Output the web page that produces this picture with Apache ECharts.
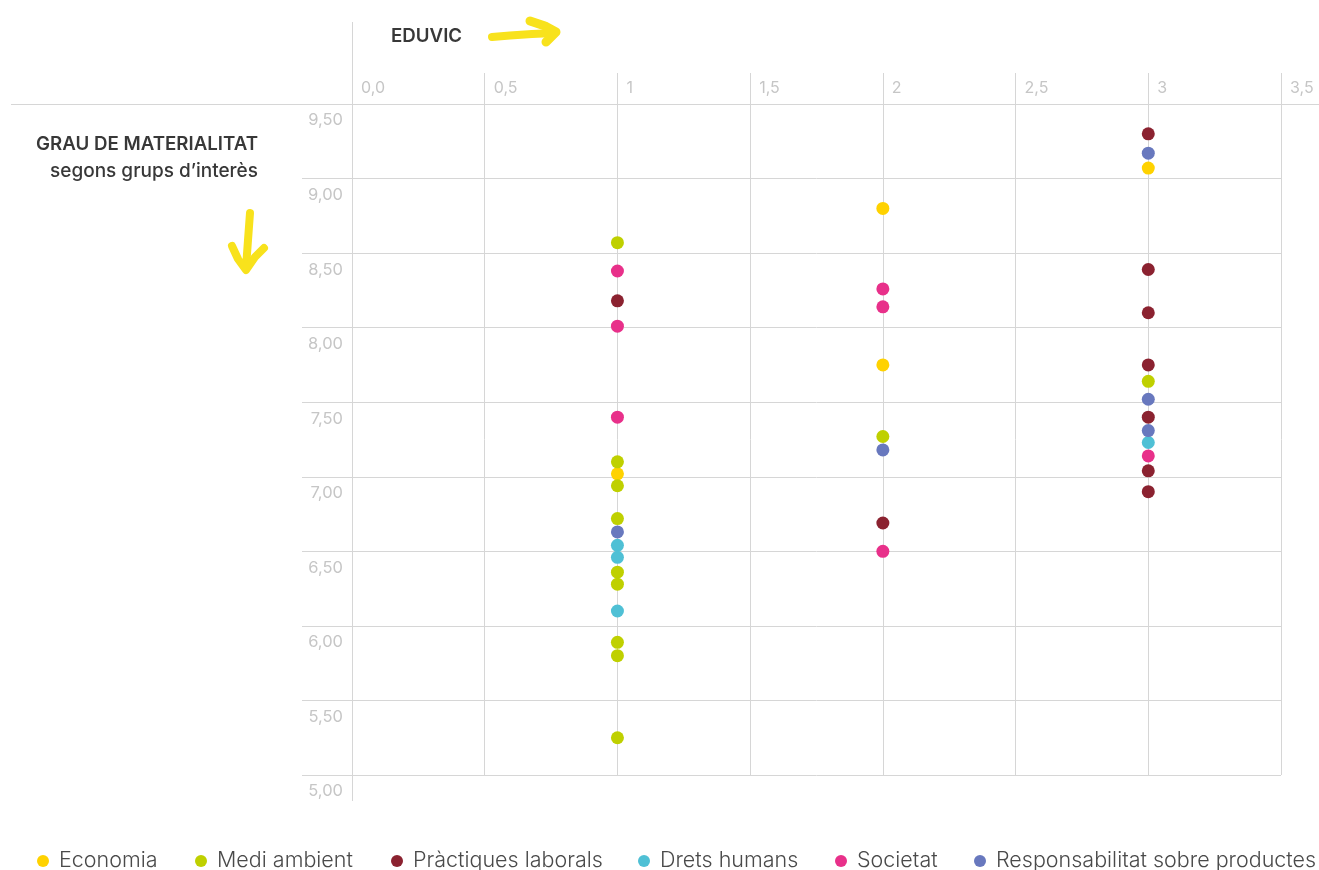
<!DOCTYPE html>
<html>
<head>
<meta charset="utf-8">
<title>EDUVIC – Grau de materialitat</title>
<script src="https://cdn.jsdelivr.net/npm/echarts@6/dist/echarts.min.js"></script>
<style>
  html, body { margin: 0; padding: 0; background: #ffffff; }
  #chart { width: 1319px; height: 870px; }
</style>
</head>
<body>
<div id="chart"></div>
<script>
// Material topics: x = EDUVIC score, y = stakeholder materiality score
const categories = [
  'Economia',
  'Medi ambient',
  'Pràctiques laborals',
  'Drets humans',
  'Societat',
  'Responsabilitat sobre productes'
];
const colors = ['#FFD200', '#BFD000', '#8B2230', '#4FC0D5', '#E8308A', '#6878BE'];

const economia = [[1, 7.02], [2, 8.80], [2, 7.75], [3, 9.07]];
const mediAmbient = [
  [1, 8.57], [1, 7.10], [1, 6.94], [1, 6.72], [1, 6.36], [1, 6.28],
  [1, 5.89], [1, 5.80], [1, 5.25], [2, 7.27], [3, 7.64]
];
const practiquesLaborals = [
  [1, 8.18], [2, 6.69], [3, 9.30], [3, 8.39], [3, 8.10], [3, 7.75],
  [3, 7.40], [3, 7.04], [3, 6.90]
];
const dretsHumans = [[1, 6.54], [1, 6.46], [1, 6.10], [3, 7.23]];
const societat = [[1, 8.38], [1, 8.01], [1, 7.40], [2, 8.26], [2, 8.14], [2, 6.50], [3, 7.14]];
const responsabilitat = [[1, 6.63], [2, 7.18], [3, 9.17], [3, 7.52], [3, 7.31]];

const seriesData = [economia, mediAmbient, practiquesLaborals, dretsHumans, societat, responsabilitat];

// Tick labels
const xTickLabels = ['0,0', '0,5', '1', '1,5', '2', '2,5', '3', '3,5'];
const yTickLabels = ['5,00', '5,50', '6,00', '6,50', '7,00', '7,50', '8,00', '8,50', '9,00', '9,50'];

// Legend item positions (left edge of each marker)
const legendLeft = [37, 195, 391, 638, 835, 974];

const gridColor = '#d6d6d6';
const tickText = '#c6c6c6';
const FONT = 'Inter, "Noto Sans", sans-serif';

const chart = echarts.init(document.getElementById('chart'), null, { renderer: 'canvas' });

const option = {
  backgroundColor: '#ffffff',
  animation: false,
  grid: { left: 352, right: 38, top: 104, bottom: 95 },
  xAxis: {
    type: 'value',
    position: 'top',
    min: 0, max: 3.5, interval: 0.5,
    axisLine: { show: false },
    axisTick: { show: true, length: 31, lineStyle: { color: gridColor, width: 1 } },
    splitLine: { show: true, lineStyle: { color: gridColor, width: 1 } },
    axisLabel: {
      margin: 8,
      align: 'left',
      padding: [0, 0, 0, 9],
      color: tickText,
      fontFamily: FONT,
      fontSize: 16,
      showMinLabel: true,
      showMaxLabel: true,
      formatter: v => xTickLabels[Math.round(v / 0.5)]
    }
  },
  yAxis: {
    type: 'value',
    min: 5, max: 9.5, interval: 0.5,
    axisLine: { show: false },
    axisTick: { show: true, length: 50, lineStyle: { color: gridColor, width: 1 } },
    splitLine: { show: true, lineStyle: { color: gridColor, width: 1 } },
    axisLabel: {
      margin: 9,
      verticalAlign: 'top',
      padding: [8, 0, 0, 0],
      lineHeight: 17,
      color: tickText,
      fontFamily: FONT,
      fontSize: 16.5,
      showMinLabel: true,
      showMaxLabel: true,
      formatter: v => yTickLabels[Math.round((v - 5) / 0.5)]
    }
  },
  legend: categories.map((name, i) => ({
    data: [name],
    left: legendLeft[i],
    top: 848,
    padding: 0,
    icon: 'circle',
    itemWidth: 12,
    itemHeight: 12,
    selectedMode: false,
    textStyle: {
      color: '#4a4a4a',
      fontFamily: FONT,
      fontSize: 21.5,
      fontWeight: 300,
      lineHeight: 26,
      padding: [0, 0, 0, 5]
    }
  })),
  series: categories.map((name, i) => ({
    name,
    type: 'scatter',
    symbol: 'circle',
    symbolSize: 13,
    itemStyle: { color: colors[i], opacity: 1 },
    emphasis: { disabled: true },
    data: seriesData[i]
  })),
  graphic: [
    // long rule under the header and extended vertical axis rule
    { type: 'line', silent: true, z: 10,
      shape: { x1: 11, y1: 104.5, x2: 1319, y2: 104.5 },
      style: { stroke: gridColor, lineWidth: 1 } },
    { type: 'line', silent: true, z: 10,
      shape: { x1: 352.5, y1: 22, x2: 352.5, y2: 801 },
      style: { stroke: gridColor, lineWidth: 1 } },
    // headings
    { type: 'text', silent: true, left: 391, top: 27,
      style: { text: 'EDUVIC', fill: '#383838', font: '600 18.7px ' + FONT } },
    { type: 'text', silent: true, right: 1319 - 258, top: 135,
      style: { text: 'GRAU DE MATERIALITAT', fill: '#383838', font: '600 18.7px ' + FONT, align: 'right' } },
    { type: 'text', silent: true, right: 1319 - 258, top: 162,
      style: { text: 'segons grups d\u2019interès', fill: '#383838', font: '500 19px ' + FONT, align: 'right' } },
    // hand-drawn yellow arrows
    { type: 'polyline', silent: true,
      shape: { points: [[492, 37], [510, 35.5], [532, 34], [554, 33]] },
      style: { stroke: '#F8E21C', lineWidth: 8, lineCap: 'round', lineJoin: 'round', fill: null } },
    { type: 'polyline', silent: true,
      shape: { points: [[530, 21], [545, 26], [556, 32], [546, 42]] },
      style: { stroke: '#F8E21C', lineWidth: 9, lineCap: 'round', lineJoin: 'round', fill: null } },
    { type: 'polyline', silent: true,
      shape: { points: [[250, 213], [248, 240], [246, 268]] },
      style: { stroke: '#F8E21C', lineWidth: 8, lineCap: 'round', lineJoin: 'round', fill: null } },
    { type: 'polyline', silent: true,
      shape: { points: [[232, 246], [238, 259], [246, 270], [255, 257], [264, 248]] },
      style: { stroke: '#F8E21C', lineWidth: 8, lineCap: 'round', lineJoin: 'round', fill: null } }
  ]
};

chart.setOption(option);
</script>
</body>
</html>
